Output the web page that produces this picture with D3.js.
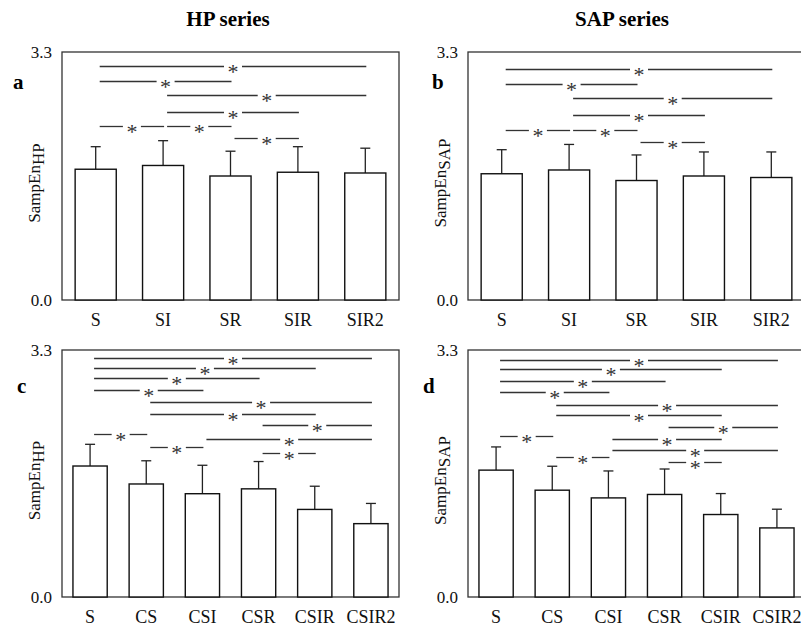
<!DOCTYPE html>
<html>
<head>
<meta charset="utf-8">
<script src="https://cdn.jsdelivr.net/npm/d3@7"></script>
<style>
  body { margin: 0; background: #fff; }
  svg { display: block; font-family: "Liberation Serif", "Times New Roman", serif; }
</style>
</head>
<body>
<div id="chart"></div>
<script>
// categories
const groupsTop = ["S", "SI", "SR", "SIR", "SIR2"];
const groupsBottom = ["S", "CS", "CSI", "CSR", "CSIR", "CSIR2"];

// means and SD (SampEn)
const hpTopMean = [1.74, 1.79, 1.65, 1.70, 1.69];
const hpTopSd = [0.30, 0.33, 0.33, 0.34, 0.33];
const sapTopMean = [1.68, 1.73, 1.59, 1.65, 1.63];
const sapTopSd = [0.32, 0.34, 0.34, 0.32, 0.34];
const hpBottomMean = [1.75, 1.51, 1.38, 1.445, 1.17, 0.98];
const hpBottomSd = [0.29, 0.31, 0.38, 0.365, 0.31, 0.27];
const sapBottomMean = [1.695, 1.427, 1.324, 1.37, 1.102, 0.923];
const sapBottomSd = [0.31, 0.32, 0.36, 0.34, 0.28, 0.25];

// significant comparisons: [from, to, level on SampEn axis]
const sigA = [["S", "SIR2", 3.12], ["S", "SR", 2.91], ["SI", "SIR2", 2.73], ["SI", "SIR", 2.50],
  ["S", "SI", 2.31], ["SI", "SR", 2.31], ["SR", "SIR", 2.16]];
const sigB = [["S", "SIR2", 3.07], ["S", "SR", 2.87], ["SI", "SIR2", 2.69], ["SI", "SIR", 2.46],
  ["S", "SI", 2.26], ["SI", "SR", 2.26], ["SR", "SIR", 2.10]];
const sigC = [["S", "CSIR2", 3.197], ["S", "CSIR", 3.056], ["S", "CSR", 2.922], ["S", "CSI", 2.761],
  ["CS", "CSIR2", 2.605], ["CS", "CSIR", 2.448], ["CSR", "CSIR2", 2.297], ["S", "CS", 2.181],
  ["CSI", "CSIR2", 2.110], ["CS", "CSI", 1.999], ["CSR", "CSIR", 1.926]];
const sigD = [["S", "CSIR2", 3.171], ["S", "CSIR", 3.042], ["S", "CSR", 2.890], ["S", "CSI", 2.734],
  ["CS", "CSIR2", 2.565], ["CS", "CSIR", 2.427], ["CSR", "CSIR2", 2.266], ["S", "CS", 2.150],
  ["CSI", "CSIR", 2.114], ["CSI", "CSIR2", 1.963], ["CS", "CSI", 1.873], ["CSR", "CSIR", 1.798]];

const yMax = 3.3;
const yTicks = [0, 3.3];

const W = 801, H = 627;
const svg = d3.select("#chart").append("svg").attr("width", W).attr("height", H);

// column titles
svg.append("text").attr("x", 228).attr("y", 26).attr("text-anchor", "middle")
  .attr("font-size", 21).attr("font-weight", "bold").text("HP series");
svg.append("text").attr("x", 622).attr("y", 26).attr("text-anchor", "middle")
  .attr("font-size", 21).attr("font-weight", "bold").text("SAP series");

const panels = [
  { letter: "a", lx: 13, ly: 89, left: 62, top: 52, height: 248, cats: groupsTop, mean: hpTopMean, sd: hpTopSd, sig: sigA, sub: "HP" },
  { letter: "b", lx: 432, ly: 89, left: 468, top: 52, height: 248, cats: groupsTop, mean: sapTopMean, sd: sapTopSd, sig: sigB, sub: "SAP" },
  { letter: "c", lx: 17, ly: 393, left: 62, top: 350, height: 247, cats: groupsBottom, mean: hpBottomMean, sd: hpBottomSd, sig: sigC, sub: "HP" },
  { letter: "d", lx: 423, ly: 393, left: 468, top: 350, height: 247, cats: groupsBottom, mean: sapBottomMean, sd: sapBottomSd, sig: sigD, sub: "SAP" },
];
const frameW = 337;

panels.forEach(p => {
  const g = svg.append("g").attr("transform", `translate(${p.left},${p.top})`);
  const x = d3.scaleBand().domain(p.cats).range([0, frameW]).paddingInner(0.39).paddingOuter(0.195);
  const y = d3.scaleLinear().domain([0, yMax]).range([p.height, 0]);
  const data = p.cats.map((c, i) => ({ cat: c, mean: p.mean[i], sd: p.sd[i] }));

  // frame
  g.append("rect").attr("width", frameW).attr("height", p.height)
    .attr("fill", "none").attr("stroke", "#333").attr("stroke-width", 1.3);

  // y axis (only 0.0 and 3.3)
  const ya = g.append("g").call(d3.axisLeft(y).tickValues(yTicks).tickSize(0).tickPadding(10).tickFormat(d3.format(".1f")));
  ya.select(".domain").remove();
  ya.selectAll("text").attr("font-size", 17).attr("font-family", "Liberation Serif, serif").attr("fill", "#111");

  // x axis labels
  const xa = g.append("g").attr("transform", `translate(0,${p.height})`)
    .call(d3.axisBottom(x).tickSize(0).tickPadding(13));
  xa.select(".domain").remove();
  xa.selectAll("text").attr("font-size", 18).attr("font-family", "Liberation Serif, serif").attr("fill", "#111");

  // error bars (upper only)
  const eb = g.append("g").attr("stroke", "#222").attr("stroke-width", 1.3);
  data.forEach(d => {
    const cx = x(d.cat) + x.bandwidth() / 2;
    eb.append("line").attr("x1", cx).attr("x2", cx).attr("y1", y(d.mean)).attr("y2", y(d.mean + d.sd));
    eb.append("line").attr("x1", cx - 5).attr("x2", cx + 5).attr("y1", y(d.mean + d.sd)).attr("y2", y(d.mean + d.sd));
  });

  // bars
  g.append("g").selectAll("rect").data(data).join("rect")
    .attr("x", d => x(d.cat)).attr("width", x.bandwidth())
    .attr("y", d => y(d.mean)).attr("height", d => y(0) - y(d.mean))
    .attr("fill", "#fff").attr("stroke", "#111").attr("stroke-width", 1.4);

  // significance lines
  const sg = g.append("g");
  p.sig.forEach(([a, b, lvl]) => {
    const x1 = x(a) + x.bandwidth() / 2 + 4;
    const x2 = x(b) + x.bandwidth() / 2 + 1;
    const mid = (x1 + x2) / 2;
    const yy = Math.round(y(lvl)) + 0.5;
    sg.append("line").attr("x1", x1).attr("x2", mid - 9).attr("y1", yy).attr("y2", yy)
      .attr("stroke", "#333").attr("stroke-width", 1.3);
    sg.append("line").attr("x1", mid + 9).attr("x2", x2).attr("y1", yy).attr("y2", yy)
      .attr("stroke", "#333").attr("stroke-width", 1.3);
    sg.append("text").attr("x", mid).attr("y", yy + 12).attr("text-anchor", "middle")
      .attr("font-size", 22).attr("fill", "#333").text("*");
  });

  // y label
  const lab = svg.append("text")
    .attr("transform", `translate(${p.left - 22},${p.top + p.height / 2 + 7}) rotate(-90)`)
    .attr("text-anchor", "middle").attr("font-size", 17).attr("fill", "#111");
  lab.append("tspan").text("SampEn");
  lab.append("tspan").attr("dy", 4).text(p.sub);

  // panel letter
  svg.append("text").attr("x", p.lx).attr("y", p.ly).attr("font-size", 21)
    .attr("font-weight", "bold").text(p.letter);
});
</script>
</body>
</html>
